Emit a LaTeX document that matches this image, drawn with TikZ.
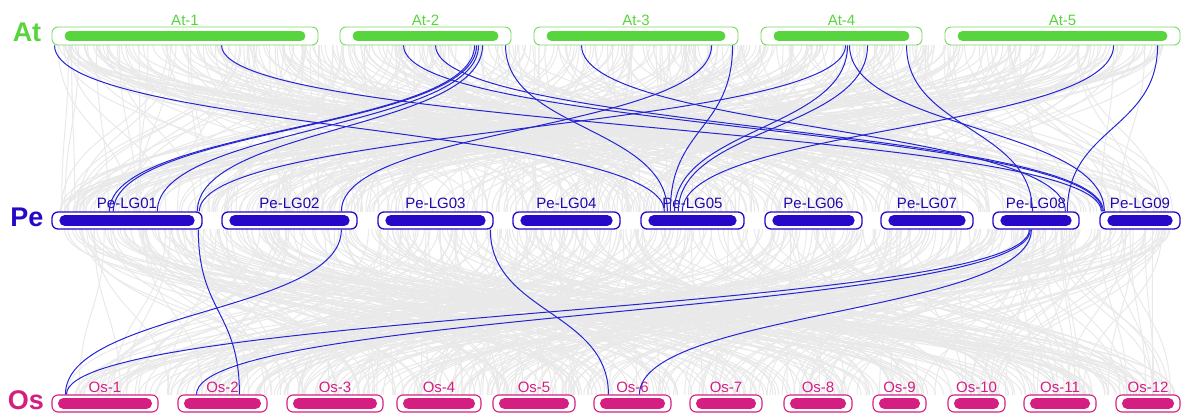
\documentclass[tikz,border=0pt]{standalone}
\usepackage{fontspec}
\setmainfont{Liberation Sans}
\usetikzlibrary{calc}
\definecolor{atGreen}{RGB}{88,212,62}
\definecolor{atLine}{RGB}{125,215,100}
\definecolor{peBlue}{RGB}{40,8,200}
\definecolor{osPink}{RGB}{212,30,130}
\definecolor{linkBlue}{RGB}{36,36,212}
\definecolor{linkGray}{RGB}{233,233,233}
\begin{document}
\begin{tikzpicture}[x=1pt, y=1pt,
    chrbox/.style={rounded corners=6pt, fill=white, inner sep=0pt},
    chrlab/.style={font=\fontsize{15}{15}\selectfont, anchor=base},
    rowlab/.style={font=\fontsize{27}{27}\selectfont\bfseries},
    graylink/.style={linkGray, line width=1pt},
    synlink/.style={linkBlue, line width=1pt}]
  \useasboundingbox (0,0) rectangle (1182,413);

  % background links
  \pgfmathsetseed{11}
  \foreach \i in {1,...,460} {
    \pgfmathsetmacro\xa{58+1115*rnd}
    \pgfmathsetmacro\xb{58+1115*rnd}
    \draw[graylink] (\xa,368) .. controls +(0,-84) and +(0,84) .. (\xb,201);
  }
  \foreach \i in {1,...,460} {
    \pgfmathsetmacro\xa{58+1115*rnd}
    \pgfmathsetmacro\xb{56+1120*rnd}
    \draw[graylink] (\xa,184) .. controls +(0,-83) and +(0,83) .. (\xb,18);
  }

  % chromosomes
  \foreach \n/\a/\b in {1/52/318, 2/340/511, 3/534/738, 4/761/922, 5/945/1180} {
    \pgfmathsetmacro\c{(\a+\b)/2}
    \pgfmathsetmacro\w{\b-\a}
    \node[chrbox, draw=atLine, line width=0.9pt, minimum width=\w pt, minimum height=18pt] (at\n) at (\c,377) {};
    \draw[atGreen, line width=10pt, line cap=round] ([xshift=18pt]at\n.west) -- ([xshift=-18pt]at\n.east);
    \node[chrlab, text=atGreen] at ([yshift=1pt]at\n.north) {At-\n};
  }
  \foreach \n/\a/\b in {01/52/202, 02/222/357, 03/378/493, 04/513/620, 05/641/744, 06/765/862, 07/881/973, 08/993/1079, 09/1100/1180} {
    \pgfmathsetmacro\c{(\a+\b)/2}
    \pgfmathsetmacro\w{\b-\a}
    \node[chrbox, draw=peBlue, line width=1.3pt, minimum width=\w pt, minimum height=17pt] (pe\n) at (\c,192.5) {};
    \draw[peBlue, line width=11pt, line cap=round] ([xshift=13.5pt]pe\n.west) -- ([xshift=-13.5pt]pe\n.east);
    \node[chrlab, text=peBlue!85!black] at ([yshift=3pt]pe\n.north) {Pe-LG\n};
  }
  \foreach \n/\a/\b in {1/52/158, 2/178/267, 3/287/383, 4/397/481, 5/493/575, 6/594/671, 7/690/762, 8/784/852, 9/873/926, 10/948/1005, 11/1024/1096, 12/1116/1180} {
    \pgfmathsetmacro\c{(\a+\b)/2}
    \pgfmathsetmacro\w{\b-\a}
    \node[chrbox, draw=osPink, line width=1.1pt, minimum width=\w pt, minimum height=17pt] (os\n) at (\c,9.5) {};
    \draw[osPink, line width=11pt, line cap=round] ([xshift=12pt]os\n.west) -- ([xshift=-12pt]os\n.east);
    \node[chrlab, text=osPink] at ([yshift=2pt]os\n.north) {Os-\n};
  }

  \node[rowlab, text=atGreen] (atname) at (27,381) {At};
  \node[rowlab, text=peBlue] (pename) at (27,196) {Pe};
  \node[rowlab, text=osPink] (osname) at (26,13) {Os};

  % syntenic gene pairs
  \foreach \s/\ds/\t/\dt in {at1/3/pe05/24, at1/170/pe09/2, at2/64/pe09/3, at2/96/pe09/4,
      at2/135/pe01/58, at2/137/pe01/62, at2/139/pe01/106, at2/143/pe01/146, at2/166/pe05/27,
      at3/48/pe08/73, at3/178/pe02/120, at3/199/pe05/30, at4/85/pe01/148, at4/87/pe05/34,
      at4/89/pe09/5, at4/107/pe05/38, at4/146/pe08/40, at5/169/pe05/42, at5/213/pe08/75} {
    \draw[synlink] ([xshift=\ds pt]\s.south west) .. controls +(0,-84) and +(0,84) .. ([xshift=\dt pt]\t.north west);
  }
  \foreach \s/\ds/\t/\dt in {pe01/147/os2/62, pe02/120/os1/14, pe03/113/os6/15,
      pe08/37/os1/15, pe08/38/os2/19, pe08/39/os6/46} {
    \draw[synlink] ([xshift=\ds pt]\s.south west) .. controls +(0,-83) and +(0,83) .. ([xshift=\dt pt]\t.north west);
  }
\end{tikzpicture}
\end{document}
